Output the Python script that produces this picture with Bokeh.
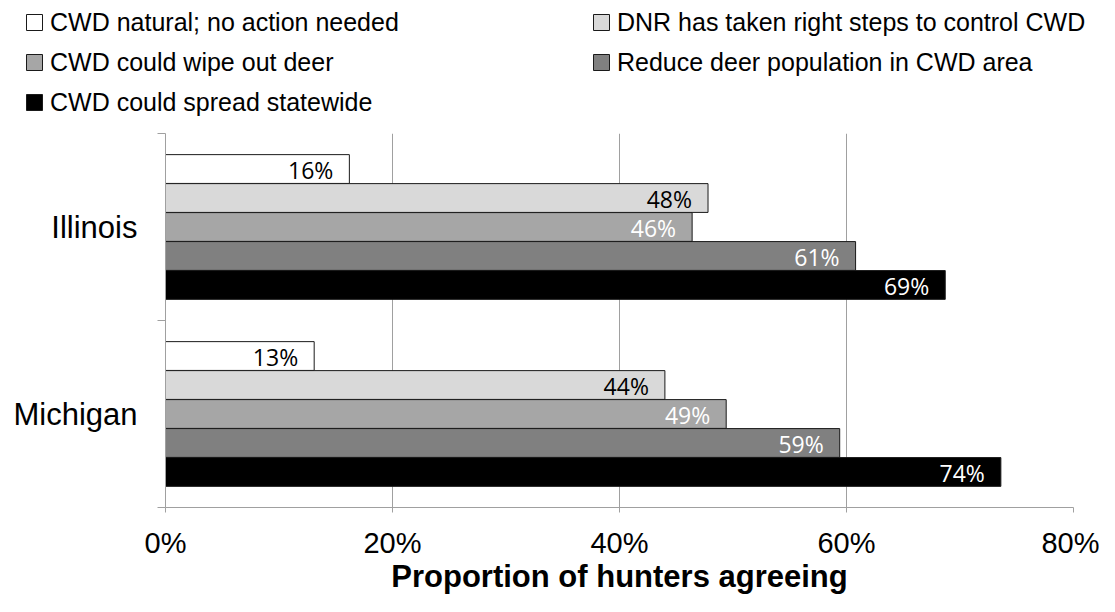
from bokeh.plotting import figure
from bokeh.models import (ColumnDataSource, Range1d, FixedTicker, PrintfTickFormatter,
                          Legend, LegendItem, LabelSet)
from bokeh.transform import dodge
from bokeh.core.properties import value
from bokeh.embed import file_html
from bokeh.resources import INLINE

# ---- data ----
states = ["Illinois", "Michigan"]
series = ["CWD natural; no action needed",
          "DNR has taken right steps to control CWD",
          "CWD could wipe out deer",
          "Reduce deer population in CWD area",
          "CWD could spread statewide"]
illinois = [16.2, 47.8, 46.4, 60.8, 68.7]
michigan = [13.1, 44.0, 49.4, 59.4, 73.6]
x_ticks = [0, 20, 40, 60, 80]

fills = ["#ffffff", "#d9d9d9", "#a6a6a6", "#808080", "#000000"]
label_colors = ["#000000", "#000000", "#ffffff", "#ffffff", "#ffffff"]
offsets = [0.31, 0.155, 0.0, -0.155, -0.31]
bar_h = 0.154
edge = "#1a1a1a"

n = len(states)
centers = [n - 0.5 - i for i in range(n)]
data = {"y": centers}
for j in range(len(series)):
    vals = [illinois[j], michigan[j]]
    data[f"v{j}"] = vals
    data[f"t{j}"] = [f"{round(v)}%" for v in vals]
src = ColumnDataSource(data)

W = 1099
LEG_H = 125

# ---- legend strip (its own figure; the swatch renderers sit outside its view) ----
pl = figure(width=W, height=LEG_H, x_range=Range1d(0, 1), y_range=Range1d(100, 101),
            x_axis_type=None, y_axis_type=None, output_backend="svg", toolbar_location=None,
            min_border=0)
pl.outline_line_color = None
pl.xgrid.grid_line_color = None
pl.ygrid.grid_line_color = None
swatch = [pl.hbar(y="y", right=f"v{j}", left=0, height=0.1, source=src,
                  fill_color=fills[j], line_color=edge, line_width=1)
          for j in range(len(series))]

def make_legend(idx, x):
    h = len(idx) * 30 + (len(idx) - 1) * 10
    return Legend(items=[LegendItem(label=series[j], renderers=[swatch[j]]) for j in idx],
                  orientation="vertical", location=(x, LEG_H - 7 - h),
                  padding=0, margin=0, spacing=10,
                  glyph_width=20, glyph_height=20, label_standoff=6,
                  label_height=30,
                  label_text_font="Liberation Sans", label_text_font_size="25px",
                  label_text_color="black",
                  border_line_color=None, background_fill_alpha=0)

pl.add_layout(make_legend([0, 2, 4], 24))
pl.add_layout(make_legend([1, 3], 591))

# ---- main chart ----
p = figure(width=W, height=596 - LEG_H, x_range=Range1d(0, 80), y_range=Range1d(0, n),
           output_backend="svg", toolbar_location=None,
           min_border_left=165, min_border_right=26, min_border_top=8, min_border_bottom=87)
p.outline_line_color = None

grid_col = "#a0a0a0"

p.xaxis.ticker = FixedTicker(ticks=x_ticks)
p.xaxis.formatter = PrintfTickFormatter(format="%d%%")
p.xaxis.axis_line_color = grid_col
p.xaxis.major_tick_line_color = grid_col
p.xaxis.major_tick_out = 5
p.xaxis.major_tick_in = 0
p.xaxis.minor_tick_line_color = None
p.xaxis.major_label_text_font = "Liberation Sans"
p.xaxis.major_label_text_font_size = "29px"
p.xaxis.major_label_text_color = "black"
p.xaxis.major_label_standoff = 14
p.xaxis.axis_label = "Proportion of hunters agreeing"
p.xaxis.axis_label_text_font = "Liberation Sans"
p.xaxis.axis_label_text_font_size = "31px"
p.xaxis.axis_label_text_font_style = "bold"
p.xaxis.axis_label_text_color = "black"
p.xaxis.axis_label_standoff = -3

p.yaxis.ticker = FixedTicker(ticks=centers, minor_ticks=list(range(n + 1)))
p.yaxis.major_label_overrides = {c: s for c, s in zip(centers, states)}
p.yaxis.axis_line_color = grid_col
p.yaxis.major_tick_line_color = None
p.yaxis.major_tick_out = 0
p.yaxis.major_tick_in = 0
p.yaxis.minor_tick_line_color = grid_col
p.yaxis.minor_tick_out = 8
p.yaxis.minor_tick_in = 0
p.yaxis.major_label_text_font = "Liberation Sans"
p.yaxis.major_label_text_font_size = "31px"
p.yaxis.major_label_text_color = "black"
p.yaxis.major_label_standoff = 20

p.xgrid.ticker = FixedTicker(ticks=x_ticks)
p.xgrid.grid_line_color = grid_col
p.ygrid.grid_line_color = None

for j in range(len(series)):
    p.hbar(y=dodge("y", offsets[j]), left=0, right=f"v{j}", height=bar_h, source=src,
           fill_color=fills[j], line_color=edge, line_width=1)
    p.add_layout(LabelSet(x=f"v{j}", y=dodge("y", offsets[j]), text=f"t{j}", source=src,
                          x_offset=-16, y_offset=-1, text_align="right", text_baseline="middle",
                          text_font=value("Open Sans"), text_font_size="23px",
                          text_color=label_colors[j]))

open("out.html", "w").write(file_html([pl, p], INLINE))
